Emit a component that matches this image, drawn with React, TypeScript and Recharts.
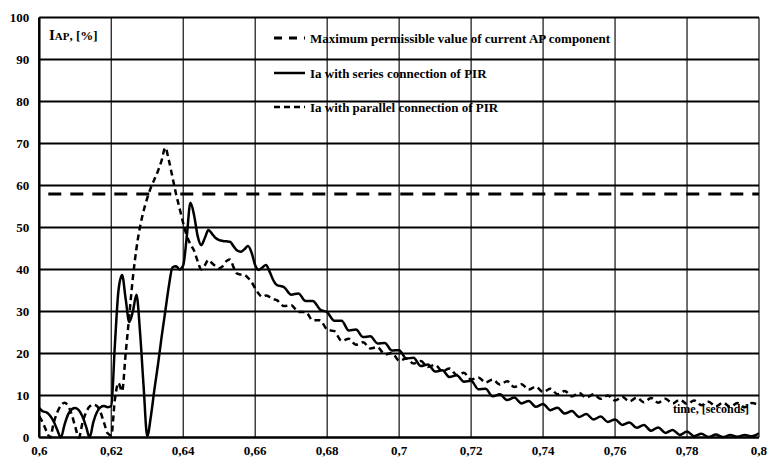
import { LineChart, Line, XAxis, YAxis, CartesianGrid } from 'recharts';

// time grid in milliseconds (1 ms steps up to 0.666 s, then 2 ms steps)
const timeMs = [
  600, 601, 602, 603, 604, 605, 606, 607, 608, 609,
  610, 611, 612, 613, 614, 615, 616, 617, 618, 619,
  620, 621, 622, 623, 624, 625, 626, 627, 628, 629,
  630, 631, 632, 633, 634, 635, 636, 637, 638, 639,
  640, 641, 642, 643, 644, 645, 646, 647, 648, 649,
  650, 651, 652, 653, 654, 655, 656, 657, 658, 659,
  660, 661, 662, 663, 664, 665, 666,
  668, 670, 672, 674, 676, 678, 680, 682, 684, 686,
  688, 690, 692, 694, 696, 698, 700, 702, 704, 706,
  708, 710, 712, 714, 716, 718, 720, 722, 724, 726,
  728, 730, 732, 734, 736, 738, 740, 742, 744, 746,
  748, 750, 752, 754, 756, 758, 760, 762, 764, 766,
  768, 770, 772, 774, 776, 778, 780, 782, 784, 786,
  788, 790, 792, 794, 796, 798, 800,
];

// Ia, series connection of PIR [%]
const seriesIa = [
  7.0, 6.2, 6.0, 5.2, 3.8, 1.8, 0, 3.0, 5.5, 6.7,
  7.0, 6.5, 5.0, 2.6, 0, 3.6, 6.0, 7.2, 7.5, 7.2,
  7.5, 22, 35, 38.7, 33, 27.5, 30, 34, 25, 12,
  0.3, 5, 11.5, 17.5, 24, 30, 36, 40.5, 40.8, 40,
  41, 48, 55.9, 53, 48, 45.8, 47.5, 49.4, 48.5, 47.5,
  47, 46.8, 46.7, 46.6, 45.5, 44.5, 44.2, 44.8, 45.6, 44,
  41, 39.9, 40.5, 41.1, 39.5, 37.5, 36.3,
  35.8, 34.0, 34.3, 32.5, 32.5, 30.5, 29.8, 27.8, 27.8, 25.5,
  25.7, 23.9, 24.1, 22.4, 22.5, 20.7, 20.8, 18.8, 19.0, 17.0,
  17.4, 15.7, 16.0, 14.4, 14.8, 13.3, 13.5, 11.5, 11.6, 9.8,
  10.3, 8.9, 9.5, 8.1, 8.7, 7.3, 8.0, 6.5, 7.1, 5.7,
  6.3, 4.9, 5.6, 4.3, 5.0, 3.7, 4.3, 3.0, 3.6, 2.3,
  3.0, 1.6, 2.4, 1.1, 1.8, 0.6, 1.4, 0.3, 0.9, 0.1,
  0.7, 0.1, 0.6, 0.2, 0.6, 0.3, 1.0,
];

// Ia, parallel connection of PIR [%]
const parallelIa = [
  5, 3.5, 1.5, 0, 3.5, 6, 7.6, 8.3, 7.5, 5.5,
  2.5, 0, 3.5, 6, 7.4, 7.8, 7.5, 6, 3.5, 1,
  0.5, 9, 13, 11, 20, 29, 38, 45, 50.2, 54,
  57, 59.5, 61.5, 63.5, 66, 69, 66, 62, 58, 54.5,
  51, 48, 46, 44.5, 42, 40, 41, 42.3, 41.5, 40.8,
  40.3, 40.8, 42, 42.4, 40.5, 39, 38.8, 38.7, 38, 37,
  35.5, 34.2, 33.5, 33.8, 33.5, 33, 32.7,
  31.3, 31.5, 29.9, 29.9, 27.9, 27.9, 25.7, 25.3, 23.0, 23.5,
  22.1, 22.7, 21.2, 21.5, 19.8, 20.1, 18.3, 18.8, 17.6, 18.2,
  16.8, 17.3, 15.8, 16.4, 14.9, 15.4, 13.8, 14.3, 13.1, 13.8,
  12.6, 13.4, 12.0, 12.7, 11.4, 12.1, 10.8, 11.6, 10.3, 11.1,
  9.8, 10.6, 9.5, 10.3, 9.2, 10.0, 8.8, 9.7, 8.6, 9.5,
  8.4, 9.4, 8.3, 9.2, 8.1, 9.0, 8.0, 8.8, 7.7, 8.5,
  7.4, 8.3, 7.3, 8.2, 7.2, 8.2, 7.7,
];

// maximum permissible value of current AP component
const limitT = [0.6025, 0.8];
const limitV = [58, 58];

const xTicks = [0.6, 0.62, 0.64, 0.66, 0.68, 0.7, 0.72, 0.74, 0.76, 0.78, 0.8];
const yTicks = [0, 10, 20, 30, 40, 50, 60, 70, 80, 90, 100];

const legendItems = [
  { label: 'Maximum permissible value of current AP component', dash: '8 7', width: 3 },
  { label: 'Ia with series connection of PIR', dash: undefined, width: 2.5 },
  { label: 'Ia with parallel connection of PIR', dash: '6 4', width: 2.5 },
];

const FONT = "'Liberation Serif', 'Times New Roman', serif";

const curveData = timeMs.map((ms, i) => ({
  t: ms / 1000,
  series: seriesIa[i],
  parallel: parallelIa[i],
}));
const limitData = limitT.map((t, i) => ({ t, limit: limitV[i] }));

const fmtX = (v: number) => String(Number(v.toFixed(2))).replace('.', ',');

export default function App() {
  const tickStyle = { fontFamily: FONT, fontSize: 13, fontWeight: 'bold', fill: '#000' };
  const legendY = [38, 73, 107];

  return (
    <div style={{ position: 'absolute', left: 0, top: 0, width: 767, height: 460, background: '#fff' }}>
      <LineChart
        width={767}
        height={460}
        data={curveData}
        margin={{ top: 17.5, right: 8, bottom: 0, left: 0 }}
      >
        <CartesianGrid horizontal={false} stroke="#222" strokeWidth={1.3} />
        <CartesianGrid vertical={false} stroke="#000" strokeWidth={2} />
        <XAxis
          dataKey="t"
          type="number"
          domain={[0.6, 0.8]}
          ticks={xTicks}
          tickFormatter={fmtX}
          allowDataOverflow
          height={22.5}
          axisLine={{ stroke: '#000', strokeWidth: 2 }}
          tickLine={false}
          tick={tickStyle}
          tickMargin={2}
        />
        <YAxis
          type="number"
          domain={[0, 100]}
          ticks={yTicks}
          width={39.3}
          axisLine={{ stroke: '#000', strokeWidth: 2.5 }}
          tickLine={false}
          tick={tickStyle}
          tickMargin={4}
        />
        <Line
          data={limitData}
          dataKey="limit"
          stroke="#000"
          strokeWidth={3}
          strokeDasharray="13 9"
          dot={false}
          isAnimationActive={false}
        />
        <Line
          dataKey="parallel"
          type="monotone"
          stroke="#000"
          strokeWidth={2.5}
          strokeDasharray="6 4"
          dot={false}
          isAnimationActive={false}
        />
        <Line
          dataKey="series"
          type="monotone"
          stroke="#000"
          strokeWidth={2.5}
          dot={false}
          isAnimationActive={false}
        />
      </LineChart>

      <svg
        width={767}
        height={460}
        style={{ position: 'absolute', left: 0, top: 0, pointerEvents: 'none', fontFamily: FONT }}
        fontWeight="bold"
      >
        <text x={49} y={40} fontSize={13} fill="#000">
          <tspan fontSize={15}>I</tspan>
          <tspan fontSize={11}>AP</tspan>
          <tspan>, [%]</tspan>
        </text>
        {legendItems.map((item, i) => (
          <g key={item.label}>
            <line
              x1={274}
              x2={305}
              y1={legendY[i]}
              y2={legendY[i]}
              stroke="#000"
              strokeWidth={item.width}
              strokeDasharray={item.dash}
            />
            <text x={310} y={legendY[i] + 4.5} fontSize={13} fill="#000">
              {item.label}
            </text>
          </g>
        ))}
        <text x={673} y={413} fontSize={12} fill="#000">
          time,  [seconds]
        </text>
      </svg>
    </div>
  );
}
